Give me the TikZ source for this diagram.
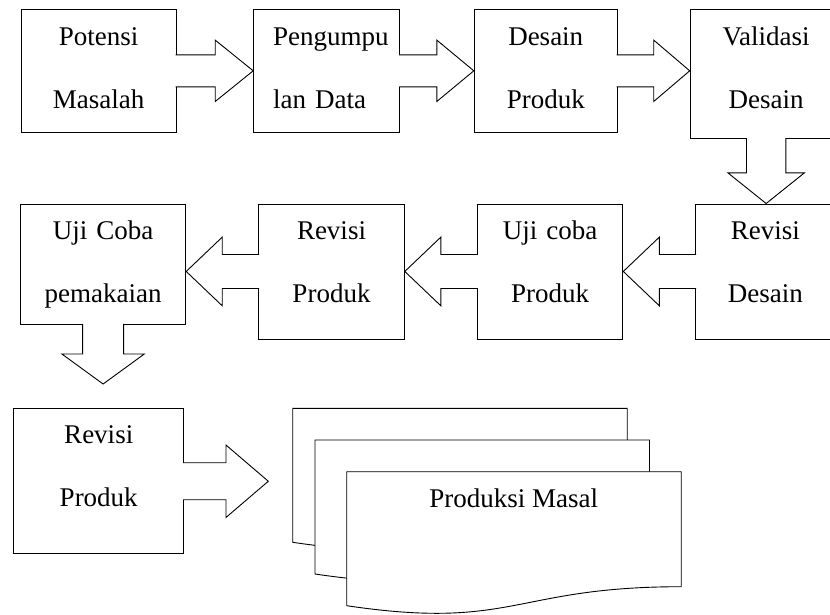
\documentclass[tikz,border=0pt]{standalone}
\usepackage{fontspec}
\setmainfont{Liberation Serif}
\usepackage{tikz}
\usetikzlibrary{calc,positioning}

% horizontal block arrow: start, tip, shaft half, head half, signed head length
\newcommand{\hblock}[5]{%
\filldraw[blockarrow] let \p1=(#1), \p2=(#2) in
  (\x1,\y1+#3) -- ({\x2-(#5)},\y1+#3) -- ({\x2-(#5)},\y1+#4) -- (\x2,\y1)
  -- ({\x2-(#5)},\y1-#4) -- ({\x2-(#5)},\y1-#3) -- (\x1,\y1-#3);}
% downward block arrow: start, tip, shaft half, head half, head length
\newcommand{\vblock}[5]{%
\filldraw[blockarrow] let \p1=(#1), \p2=(#2) in
  (\x1-#3,\y1) -- (\x1-#3,\y2+#5) -- (\x1-#4,\y2+#5) -- (\x1,\y2)
  -- (\x1+#4,\y2+#5) -- (\x1+#3,\y2+#5) -- (\x1+#3,\y1);}

\begin{document}
\begin{tikzpicture}[
x=1pt, y=-1pt,
box/.style={draw, line width=0.9pt, inner sep=0pt, align=center, anchor=north west,
  font=\fontsize{27}{63}\selectfont, text height=36pt},
blockarrow/.style={draw, fill=white, line width=0.9pt, line join=miter},
sheet/.style={draw, fill=white, line width=0.9pt, line join=miter},
]
\path[use as bounding box] (0,0) rectangle (830,614);
\clip (0,0) rectangle (830,614);

%Nodes
\node[box, text width=155pt, text depth=86.7pt] (potensi) at (20.7,9) {Potensi\\Masalah};
\node[box, text width=107pt, inner xsep=19.5pt, align=left, text depth=86.7pt]
  (pengumpulan) [right=76.6pt of potensi.north east, anchor=north west] {Pengumpu\\lan Data};
\node[box, text width=143pt, text depth=86.7pt]
  (desain) [right=73.7pt of pengumpulan.north east, anchor=north west] {Desain\\Produk};
\node[box, text width=152pt, text depth=93.3pt]
  (validasi) [right=72pt of desain.north east, anchor=north west] {Validasi\\Desain};

\node[box, text width=140pt, text depth=99pt] (revdesain) at (695,203.5) {Revisi\\Desain};
\node[box, text width=145.6pt, text depth=99pt]
  (ujiproduk) [left=71.7pt of revdesain.north west, anchor=north east] {Uji coba\\Produk};
\node[box, text width=145.7pt, text depth=99pt]
  (revproduk) [left=72pt of ujiproduk.north west, anchor=north east] {Revisi\\Produk};
\node[box, text width=165.3pt, text depth=84.5pt]
  (pemakaian) [left=72pt of revproduk.north west, anchor=north east] {Uji Coba\\pemakaian};

\node[box, text width=170pt, text height=35pt, text depth=110pt] (revakhir) at (13.3,408.3) {Revisi\\Produk};

%Produksi masal (stacked sheets)
\foreach \sx/\sy in {292.7/408.3, 315/440, 346.7/471.7}
  \filldraw[sheet, shift={(\sx,\sy)}] (0,0) -- (334.5,0) -- (334.5,115)
    .. controls (167.25,115) and (167.25,158.8) .. (0,134) -- cycle;
\node[font=\fontsize{27}{63}\selectfont, anchor=base] (masal) at (513.7,507.7) {Produksi Masal};

\coordinate (tippakai) at (106,384);
\coordinate (tipmasal) at (268.3,480.8);

%Arrows
\hblock{[xshift=-1pt]potensi.east}{pengumpulan.west}{16pt}{30.7pt}{38pt}
\hblock{[xshift=-1pt]pengumpulan.east}{desain.west}{16pt}{30.7pt}{37pt}
\hblock{[xshift=-1pt]desain.east}{validasi.west}{16pt}{30.7pt}{36pt}
\vblock{[yshift=1pt]validasi.south}{revdesain.north}{19.7pt}{38.3pt}{30.7pt}
\hblock{[xshift=1pt]revdesain.west}{ujiproduk.east}{17pt}{34.3pt}{-36pt}
\hblock{[xshift=1pt]ujiproduk.west}{revproduk.east}{17pt}{34.3pt}{-36pt}
\hblock{[xshift=1pt]revproduk.west}{pemakaian.east}{17pt}{34.3pt}{-36pt}
\vblock{[yshift=1pt]pemakaian.south}{tippakai}{20.5pt}{41.2pt}{30pt}
\hblock{[xshift=-1pt]revakhir.east}{tipmasal}{18.5pt}{36.2pt}{42.3pt}
\end{tikzpicture}
\end{document}
